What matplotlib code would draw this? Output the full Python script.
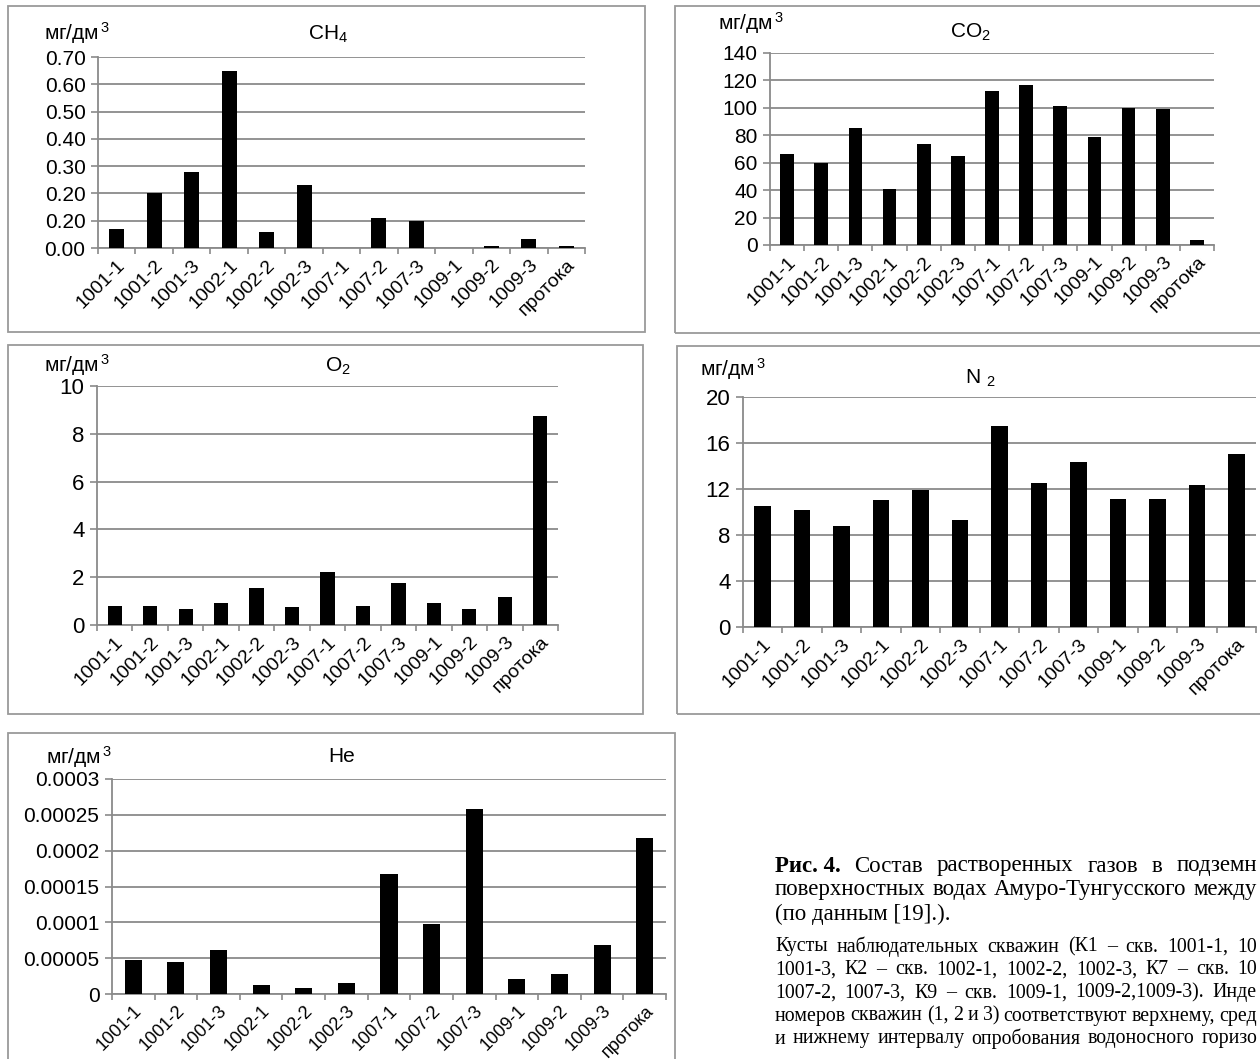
import matplotlib
matplotlib.use('Agg')
import matplotlib.pyplot as plt
from matplotlib.patches import Rectangle
import numpy as np

# ================= DATA =================
wells = ['1001-1', '1001-2', '1001-3', '1002-1', '1002-2', '1002-3',
         '1007-1', '1007-2', '1007-3', '1009-1', '1009-2', '1009-3', 'протока']

ch4 = [0.07, 0.20, 0.28, 0.65, 0.06, 0.23, 0.0, 0.11, 0.10, 0.0, 0.009, 0.033, 0.009]
co2 = [66, 60, 85, 41, 74, 65, 112, 117, 101, 79, 100, 99, 4]
o2 = [0.78, 0.80, 0.66, 0.90, 1.55, 0.76, 2.23, 0.80, 1.75, 0.90, 0.66, 1.16, 8.75]
n2 = [10.5, 10.2, 8.8, 11.05, 11.9, 9.3, 17.45, 12.55, 14.35, 11.15, 11.15, 12.35, 15.05]
he = [0.000047, 0.000045, 0.000061, 0.000013, 0.0000086, 0.000015, 0.000168,
      0.000098, 0.000258, 0.000021, 0.0000275, 0.000068, 0.000217]

ch4_ticks = [0, 0.1, 0.2, 0.3, 0.4, 0.5, 0.6, 0.7]
ch4_labels = ['0.00', '0.20', '0.20', '0.30', '0.40', '0.50', '0.60', '0.70']  # as printed
co2_ticks = [0, 20, 40, 60, 80, 100, 120, 140]
o2_ticks = [0, 2, 4, 6, 8, 10]
n2_ticks = [0, 4, 8, 12, 16, 20]
he_ticks = [0, 0.00005, 0.0001, 0.00015, 0.0002, 0.00025, 0.0003]
he_labels = ['0', '0.00005', '0.0001', '0.00015', '0.0002', '0.00025', '0.0003']

# caption, only the part that is visible in the page crop
caption_lines = [
    'Рис. 4. Состав растворенных газов в подземн',
    'поверхностных водах Амуро-Тунгусского между',
    '(по данным [19].).',
]
note_lines = [
    'Кусты наблюдательных скважин (К1 – скв. 1001-1, 10',
    '1001-3, К2 – скв. 1002-1, 1002-2, 1002-3, К7 – скв. 10',
    '1007-2, 1007-3, К9 – скв. 1009-1, 1009-2,1009-3). Инде',
    'номеров скважин (1, 2 и 3) соответствуют верхнему, сред',
    'и нижнему интервалу опробования водоносного горизо',
]

# ================= STYLE =================
W, H = 1260, 1059
GRID = '#8a8a8a'
plt.rcParams['font.family'] = ['Liberation Sans', 'DejaVu Sans']
plt.rcParams['mathtext.fontset'] = 'custom'
plt.rcParams['mathtext.rm'] = 'Liberation Sans'
plt.rcParams['mathtext.it'] = 'Liberation Sans:italic'

fig = plt.figure(figsize=(W / 100, H / 100), dpi=100)
fig.patch.set_facecolor('white')
renderer = fig.canvas.get_renderer()


def fx(x):
    return x / W


def fy(y):
    return 1 - y / H


def panel(vals, ax_box, frame, ticks, ticklabels, ylim, title, title_xy, unit_xy,
          bar_w=0.4, xfs=14, yfs=15):
    l, t, r, b = ax_box
    fig.add_artist(Rectangle((fx(frame[0]), fy(frame[3])), fx(frame[2] - frame[0]),
                             (frame[3] - frame[1]) / H, transform=fig.transFigure,
                             fill=False, edgecolor='#9a9a9a', lw=1.3))
    ax = fig.add_axes([fx(l), fy(b), fx(r - l), (b - t) / H])
    x = np.arange(len(wells))
    ax.bar(x, vals, width=bar_w, color='black', zorder=3)
    ax.set_xlim(-0.5, len(wells) - 0.5)
    ax.set_ylim(*ylim)
    ax.set_yticks(ticks)
    ax.set_yticklabels(ticklabels, fontsize=yfs)
    ax.yaxis.grid(True, color=GRID, lw=1.3, zorder=0)
    ax.set_axisbelow(True)
    ax.set_xticks(x)
    ax.set_xticklabels(wells, rotation=45, ha='right', va='top',
                       rotation_mode='anchor', fontsize=xfs)
    ax.set_xticks(np.arange(len(wells) + 1) - 0.5, minor=True)
    ax.tick_params(axis='x', which='major', length=0, pad=6)
    ax.tick_params(axis='x', which='minor', length=4, color=GRID, width=1.2)
    ax.tick_params(axis='y', length=5, color=GRID, width=1.2, pad=4)
    for s in ['top', 'right']:
        ax.spines[s].set_visible(False)
    for s in ['left', 'bottom']:
        ax.spines[s].set_color(GRID)
        ax.spines[s].set_linewidth(1.3)
    ax.patch.set_alpha(0)
    fig.text(fx(title_xy[0]), fy(title_xy[1]), title, fontsize=15,
             ha='center', va='center')
    fig.text(fx(unit_xy[0]), fy(unit_xy[1]), 'мг/дм$^{\\,3}$', fontsize=15,
             ha='left', va='center')
    return ax


panel(ch4, (98, 57, 585, 248), (8, 6, 645, 332), ch4_ticks, ch4_labels, (0, 0.7),
      'CH$_4$', (328, 34), (44, 33))
panel(co2, (770, 53, 1214, 245), (675, 6, 1290, 333), co2_ticks,
      [str(v) for v in co2_ticks], (0, 140), 'CO$_2$', (970, 32), (718, 23))
panel(o2, (97, 386, 558, 625), (8, 345, 643, 714), o2_ticks,
      [str(v) for v in o2_ticks], (0, 10), 'O$_2$', (338, 366), (44, 365),
      yfs=16)
panel(n2, (743, 397, 1256, 627), (677, 346, 1290, 714), n2_ticks,
      [str(v) for v in n2_ticks], (0, 20), 'N $_2$', (980, 378), (700, 369),
      bar_w=0.42, yfs=16)
panel(he, (112, 779, 666, 994), (8, 733, 675, 1090), he_ticks, he_labels,
      (0, 0.0003), 'He', (342, 757), (46, 757), xfs=13)


# ================= CAPTION =================
def justified(line, y, size, left=775, right=1257, bold_head=False):
    # justified text, the column runs past the page crop
    words = line.split(' ')
    if bold_head:
        words = [words[0] + ' ' + words[1]] + words[2:]
    texts = []
    for i, w in enumerate(words):
        weight = 'bold' if (bold_head and i == 0) else 'normal'
        texts.append(fig.text(0, fy(y), w, fontsize=size, fontweight=weight,
                              family='Liberation Serif', ha='left', va='center'))
    widths = [t.get_window_extent(renderer).width for t in texts]
    gap = max((right - left - sum(widths)) / (len(words) - 1), 4)
    x = left
    for t, w in zip(texts, widths):
        t.set_x(fx(x))
        x += w + gap


justified(caption_lines[0], 866, 16.5, bold_head=True)
justified(caption_lines[1], 890, 16.5)
fig.text(fx(775), fy(914), caption_lines[2], fontsize=16.5,
         family='Liberation Serif', ha='left', va='center')
for i, line in enumerate(note_lines):
    justified(line, 947 + 23 * i, 14.3)

fig.savefig('out.png', dpi=100, facecolor='white')
